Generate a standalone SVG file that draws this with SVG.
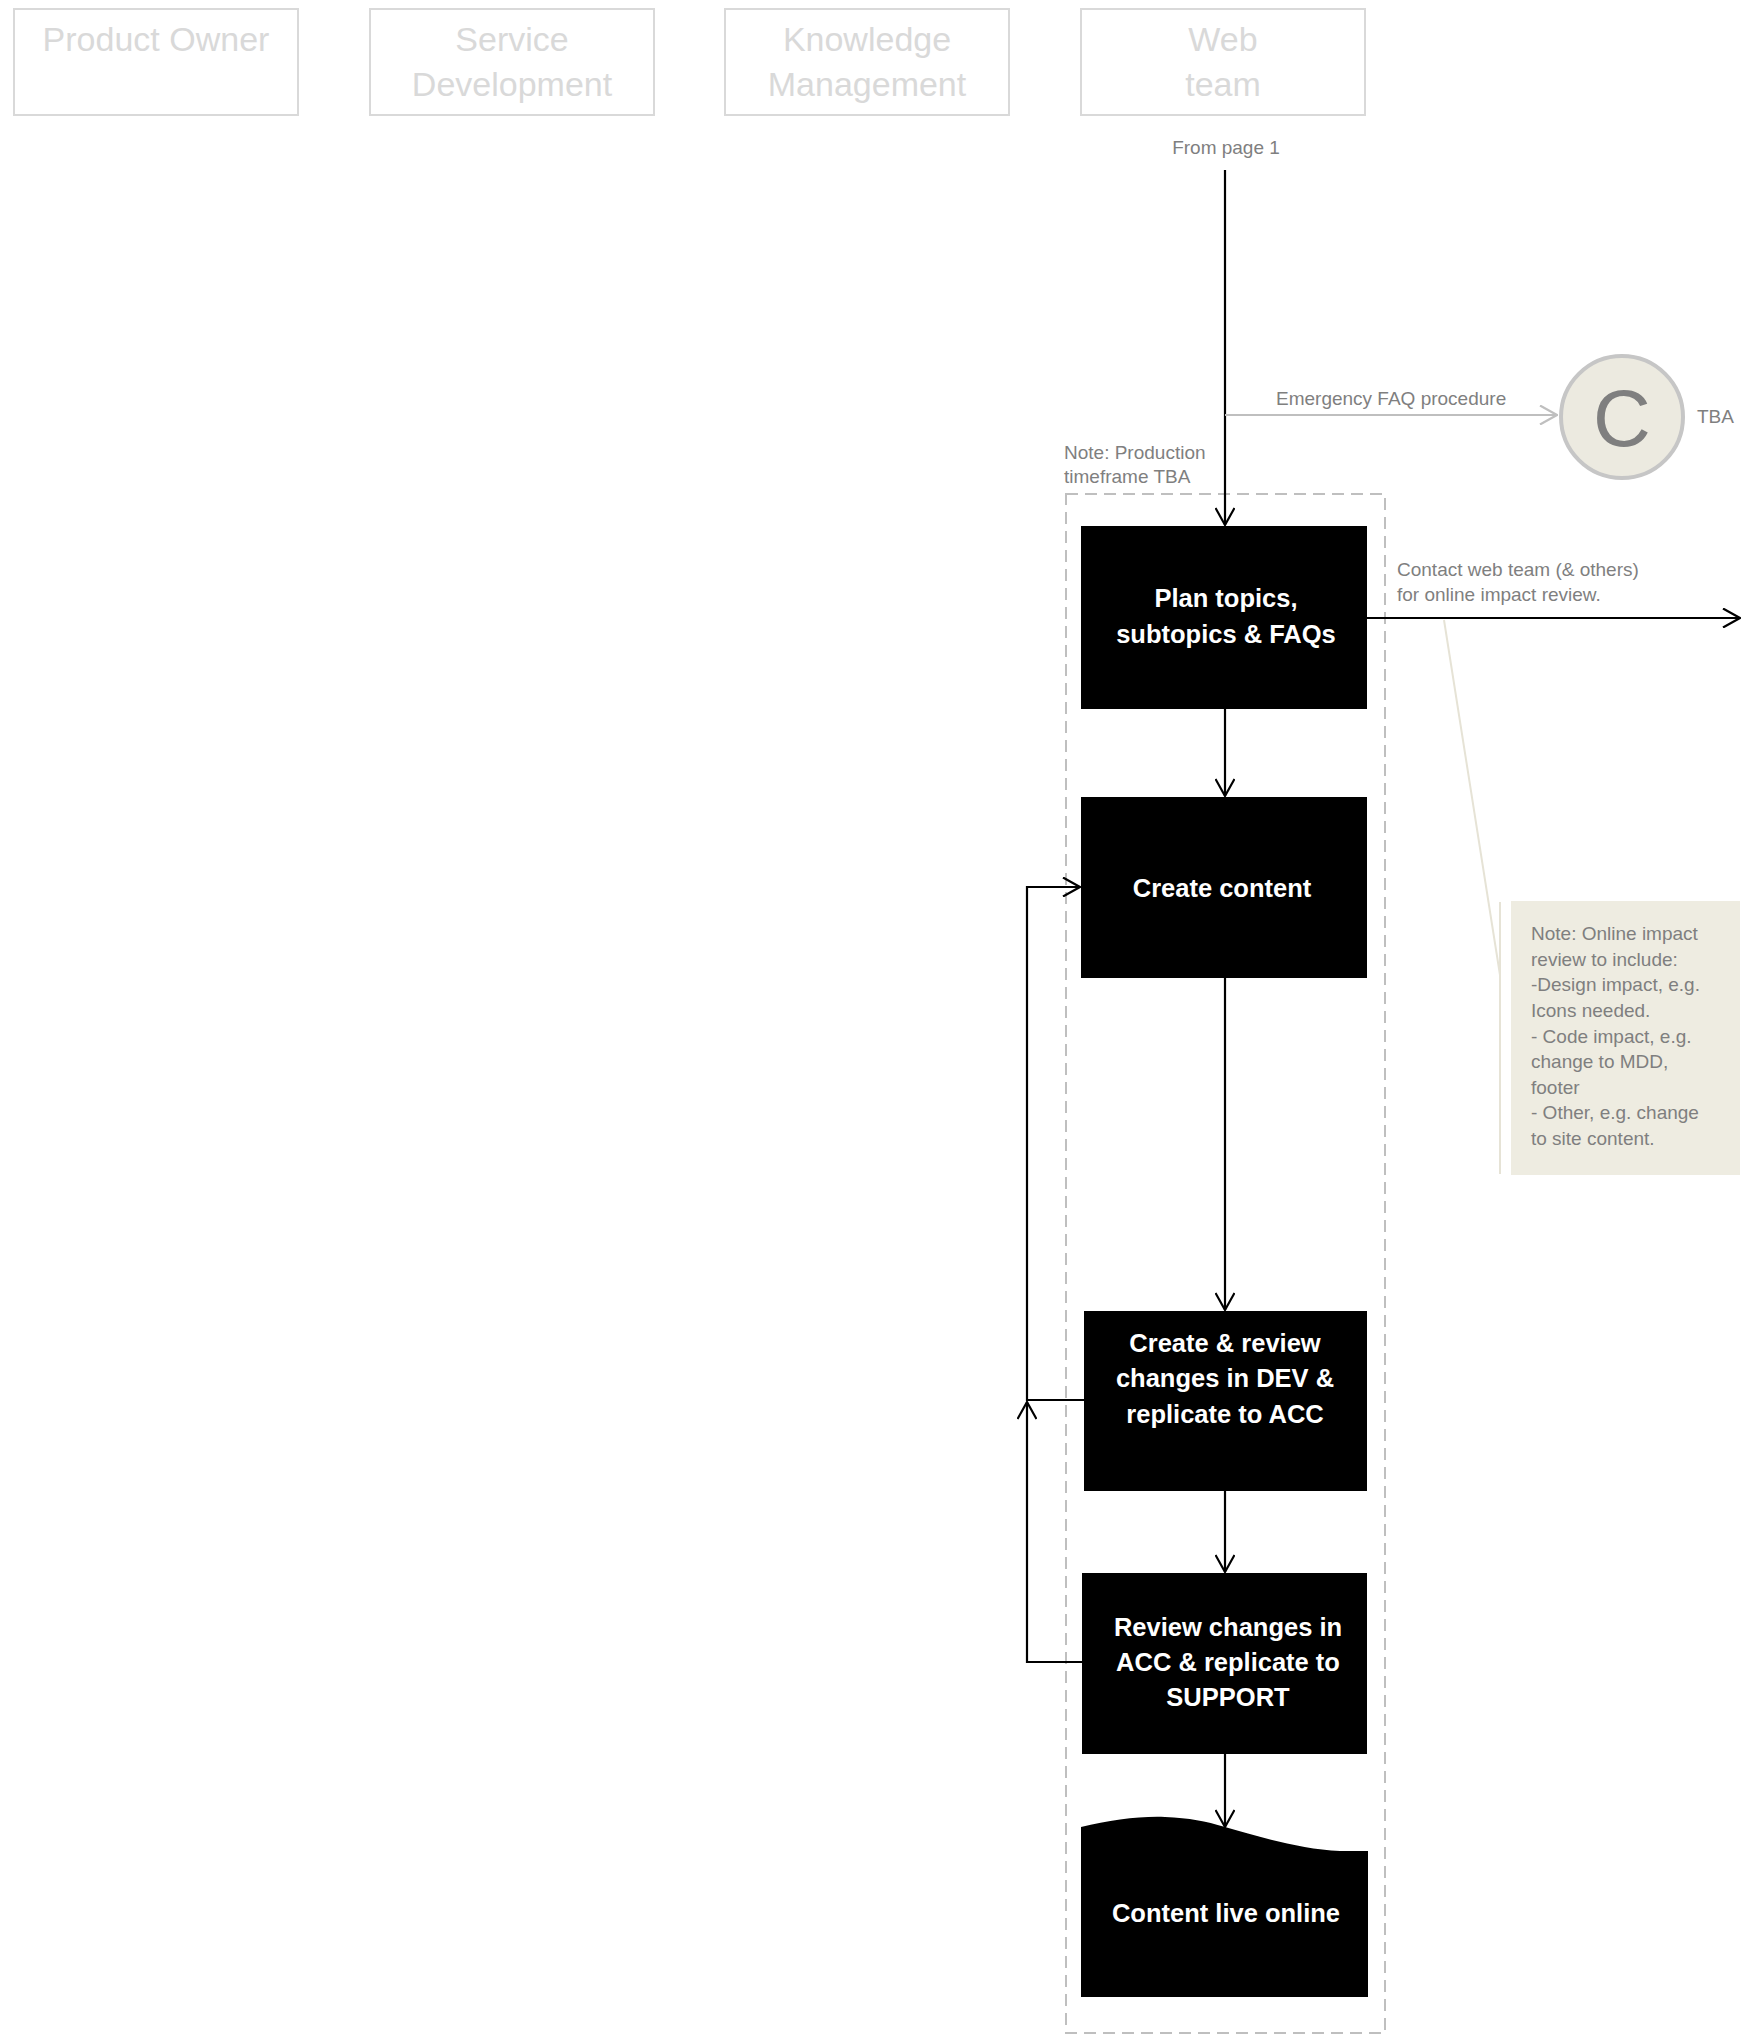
<svg xmlns="http://www.w3.org/2000/svg" width="1752" height="2035" viewBox="0 0 1752 2035">
<style>
.hdr{fill:#fff;stroke:#d9d9d9;stroke-width:2}
.hdrt{font-family:"Liberation Sans",Arial,sans-serif;font-size:34px;fill:#d9d9d9;text-anchor:middle}
.proc{fill:#000}
.pt{font-family:"Liberation Sans",Arial,sans-serif;font-weight:bold;font-size:25.5px;fill:#fff;text-anchor:middle}
.gt{font-family:"Liberation Sans",Arial,sans-serif;font-size:19px;fill:#7f7f7f}
.con{fill:none;stroke:#000;stroke-width:2.2}
.gcon{fill:none;stroke:#bfbfbf;stroke-width:2.2}
</style>
<defs>
<marker id="ah" viewBox="0 0 20 20" refX="19" refY="10" markerWidth="20" markerHeight="20" orient="auto" markerUnits="userSpaceOnUse">
<path d="M2,0.5 L19,10 L2,19.5" fill="none" stroke="#000" stroke-width="2.2"/>
</marker>
<marker id="ahg" viewBox="0 0 20 20" refX="19" refY="10" markerWidth="20" markerHeight="20" orient="auto" markerUnits="userSpaceOnUse">
<path d="M2,0.5 L19,10 L2,19.5" fill="none" stroke="#bfbfbf" stroke-width="2.2"/>
</marker>
</defs>
<rect width="1752" height="2035" fill="#fff"/>

<g id="lane-product-owner">
<rect class="hdr" x="14" y="9" width="284" height="106"/>
<text class="hdrt" x="156" y="51">Product Owner</text>
</g>
<g id="lane-service-development">
<rect class="hdr" x="370" y="9" width="284" height="106"/>
<text class="hdrt" x="512" y="51">Service</text>
<text class="hdrt" x="512" y="96">Development</text>
</g>
<g id="lane-knowledge-management">
<rect class="hdr" x="725" y="9" width="284" height="106"/>
<text class="hdrt" x="867" y="51">Knowledge</text>
<text class="hdrt" x="867" y="96">Management</text>
</g>
<g id="lane-web-team">
<rect class="hdr" x="1081" y="9" width="284" height="106"/>
<text class="hdrt" x="1223" y="51">Web</text>
<text class="hdrt" x="1223" y="96">team</text>
</g>

<g id="production-frame">
<rect x="1066" y="494" width="319" height="1539" fill="none" stroke="#bfbfbf" stroke-width="2" stroke-dasharray="12 7"/>
<text class="gt" x="1064" y="459">Note: Production</text>
<text class="gt" x="1064" y="483">timeframe TBA</text>
</g>

<g id="from-page-1">
<text class="gt" x="1226" y="154" text-anchor="middle">From page 1</text>
</g>

<g id="connector-c">
<circle cx="1622" cy="417" r="61" fill="#eceae0" stroke="#c6c6c6" stroke-width="4"/>
<text x="1622" y="446" text-anchor="middle" font-family="Liberation Sans,Arial,sans-serif" font-size="80" fill="#7f7f7f">C</text>
<text class="gt" x="1697" y="423">TBA</text>
</g>

<g id="note-online-impact">
<path d="M1444,620 L1500,975 M1500,902 L1500,1174" fill="none" stroke="#e6e3d6" stroke-width="2"/>
<rect x="1511" y="901" width="229" height="274" fill="#eeece1"/>
<text class="gt">
<tspan x="1531" y="940">Note: Online impact</tspan>
<tspan x="1531" y="966">review to include:</tspan>
<tspan x="1531" y="991">-Design impact, e.g.</tspan>
<tspan x="1531" y="1017">Icons needed.</tspan>
<tspan x="1531" y="1043">- Code impact, e.g.</tspan>
<tspan x="1531" y="1068">change to MDD,</tspan>
<tspan x="1531" y="1094">footer</tspan>
<tspan x="1531" y="1119">- Other, e.g. change</tspan>
<tspan x="1531" y="1145">to site content.</tspan>
</text>
</g>

<g id="plan-topics">
<rect class="proc" x="1081" y="526" width="286" height="183"/>
<text class="pt" x="1226" y="607">Plan topics,</text>
<text class="pt" x="1226" y="643">subtopics &amp; FAQs</text>
</g>
<g id="create-content">
<rect class="proc" x="1081" y="797" width="286" height="181"/>
<text class="pt" x="1222" y="897">Create content</text>
</g>
<g id="create-review-dev">
<rect class="proc" x="1084" y="1311" width="283" height="180"/>
<text class="pt" x="1225" y="1352">Create &amp; review</text>
<text class="pt" x="1225" y="1387">changes in DEV &amp;</text>
<text class="pt" x="1225" y="1423">replicate to ACC</text>
</g>
<g id="review-acc">
<rect class="proc" x="1082" y="1573" width="285" height="181"/>
<text class="pt" x="1228" y="1636">Review changes in</text>
<text class="pt" x="1228" y="1671">ACC &amp; replicate to</text>
<text class="pt" x="1228" y="1706">SUPPORT</text>
</g>
<g id="content-live">
<path class="proc" d="M1081,1827 C1110,1820 1140,1816 1165,1817 C1190,1818 1205,1821 1225,1827 C1260,1837 1300,1849 1340,1851 L1368,1851 L1368,1997 L1081,1997 Z"/>
<text class="pt" x="1226" y="1922">Content live online</text>
</g>

<g id="connectors">
<path class="con" d="M1225,170 L1225,525" marker-end="url(#ah)"/>
<path class="gcon" d="M1225,415 L1557,415" marker-end="url(#ahg)"/>
<text class="gt" x="1276" y="405">Emergency FAQ procedure</text>
<path class="con" d="M1225,709 L1225,796" marker-end="url(#ah)"/>
<path class="con" d="M1367,618 L1740,618" marker-end="url(#ah)"/>
<text class="gt" x="1397" y="576">Contact web team (&amp; others)</text>
<text class="gt" x="1397" y="601">for online impact review.</text>
<path class="con" d="M1225,978 L1225,1310" marker-end="url(#ah)"/>
<path class="con" d="M1225,1491 L1225,1572" marker-end="url(#ah)"/>
<path class="con" d="M1225,1754 L1225,1827" marker-end="url(#ah)"/>
<path class="con" d="M1084,1400 L1027,1400 L1027,887 L1080,887" marker-end="url(#ah)"/>
<path class="con" d="M1082,1662 L1027,1662 L1027,1402" marker-end="url(#ah)"/>
</g>
</svg>
